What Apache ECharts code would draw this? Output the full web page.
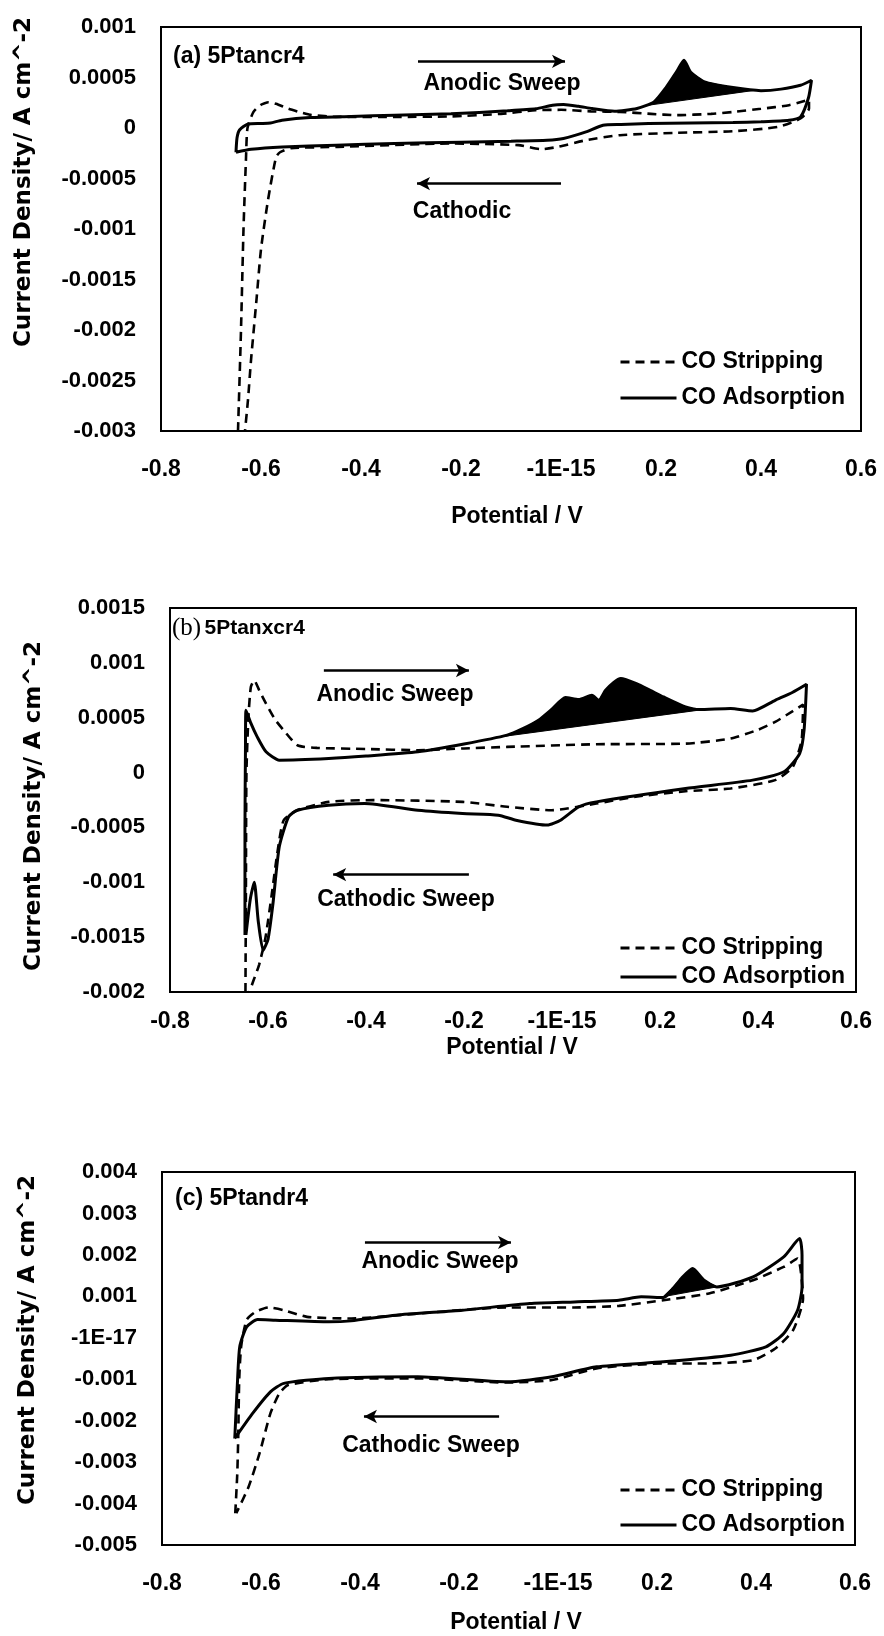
<!DOCTYPE html>
<html>
<head>
<meta charset="utf-8">
<script src="https://cdn.jsdelivr.net/npm/echarts@6/dist/echarts.min.js"></script>
<style>
html,body{margin:0;padding:0;background:#fff;}
#c{width:884px;height:1636px;}
</style>
</head>
<body>
<div id="c"></div>
<script>
// ---------- shared axis ticks ----------
const xTicks = { min: -0.8, max: 0.6, interval: 0.2 };
const yTicksA = { min: -0.003, max: 0.001, interval: 0.0005 };
const yTicksB = { min: -0.002, max: 0.0015, interval: 0.0005 };
const yTicksC = { min: -0.005, max: 0.004, interval: 0.001 };

// ---------- panel (a) 5Ptancr4 ----------
const aAdsV = [-0.650, -0.648, -0.643, -0.626, -0.600, -0.581, -0.558, -0.502, -0.420, -0.333, -0.220, -0.107, -0.050, -0.017, 0.005, 0.035, 0.062, 0.107, 0.152, 0.186, 0.210, 0.231, 0.246, 0.259, 0.287, 0.344, 0.400, 0.440, 0.479, 0.501, 0.495, 0.479, 0.456, 0.400, 0.344, 0.260, 0.175, 0.120, 0.084, 0.050, 0.005, -0.028, -0.100, -0.200, -0.333, -0.450, -0.558, -0.620, -0.650];
const aAdsI = [-0.00024, -0.00010, -0.00002, 0.00004, 0.000045, 0.00005, 0.000077, 0.000104, 0.000115, 0.000127, 0.00014, 0.00017, 0.00019, 0.000226, 0.000232, 0.000215, 0.000193, 0.000166, 0.000193, 0.000258, 0.00040, 0.000555, 0.000671, 0.000555, 0.000456, 0.00040, 0.00037, 0.000385, 0.000423, 0.000473, 0.00030, 0.00011, 0.000077, 0.000062, 0.000054, 0.00005, 0.000044, 0.000035, 0.000028, -0.000039, -0.000104, -0.000121, -0.00013, -0.00014, -0.000153, -0.00017, -0.000187, -0.00021, -0.00024];
const aStrV = [-0.646, -0.640, -0.635, -0.630, -0.627, -0.615, -0.600, -0.585, -0.570, -0.545, -0.524, -0.500, -0.446, -0.330, -0.220, -0.120, -0.051, 0.000, 0.060, 0.118, 0.180, 0.231, 0.300, 0.344, 0.400, 0.456, 0.485, 0.496, 0.496, 0.479, 0.434, 0.344, 0.231, 0.118, 0.050, -0.006, -0.040, -0.085, -0.220, -0.446, -0.540, -0.562, -0.570, -0.586, -0.600, -0.609, -0.620, -0.626, -0.632];
const aStrI = [-0.003, -0.002, -0.001, -0.0003, 0.0, 0.00016, 0.00023, 0.000255, 0.00024, 0.00019, 0.000159, 0.00013, 0.00011, 0.00011, 0.000115, 0.00014, 0.000176, 0.00018, 0.000165, 0.000159, 0.00014, 0.000127, 0.00014, 0.000159, 0.00019, 0.000226, 0.000265, 0.00028, 0.000193, 0.000094, 0.000011, -0.000032, -0.000048, -0.000071, -0.000121, -0.000187, -0.00021, -0.00017, -0.000153, -0.000187, -0.0002, -0.00024, -0.00029, -0.000714, -0.0012, -0.0017, -0.0023, -0.00269, -0.003];
const aPeakV = [0.170, 0.186, 0.210, 0.231, 0.246, 0.259, 0.287, 0.344, 0.390];
const aPeakI = [0.000222, 0.000258, 0.00040, 0.000555, 0.000671, 0.000555, 0.000456, 0.00040, 0.000375];

// ---------- panel (b) 5Ptanxcr4 ----------
const bAdsV = [-0.647, -0.647, -0.646, -0.645, -0.635, -0.622, -0.604, -0.577, -0.476, -0.400, -0.294, -0.200, -0.112, -0.080, -0.048, -0.020, 0.007, 0.034, 0.061, 0.075, 0.089, 0.105, 0.120, 0.152, 0.180, 0.207, 0.252, 0.280, 0.344, 0.389, 0.435, 0.470, 0.499, 0.494, 0.485, 0.453, 0.389, 0.252, 0.070, 0.034, -0.003, -0.030, -0.094, -0.130, -0.203, -0.294, -0.403, -0.476, -0.540, -0.558, -0.577, -0.590, -0.600, -0.610, -0.620, -0.628, -0.636, -0.645];
const bAdsI = [-0.00148, -0.0005, 0.0002, 0.000568, 0.00045, 0.000325, 0.000189, 0.000113, 0.000128, 0.00015, 0.000189, 0.00026, 0.000341, 0.0004, 0.000477, 0.00058, 0.000684, 0.000666, 0.000705, 0.000659, 0.00075, 0.00082, 0.000857, 0.000811, 0.00075, 0.000689, 0.000598, 0.000574, 0.000584, 0.000562, 0.000659, 0.00073, 0.000805, 0.000386, 0.000173, 0.000007, -0.000069, -0.000145, -0.000267, -0.000312, -0.000434, -0.000479, -0.000434, -0.000388, -0.000373, -0.000343, -0.000282, -0.000297, -0.000343, -0.000403, -0.000677, -0.0012, -0.00152, -0.00162, -0.00135, -0.001, -0.00115, -0.00148];
const bStrV = [-0.646, -0.645, -0.644, -0.640, -0.635, -0.628, -0.618, -0.604, -0.585, -0.568, -0.540, -0.500, -0.400, -0.294, -0.200, -0.112, 0.070, 0.252, 0.344, 0.400, 0.435, 0.471, 0.492, 0.489, 0.471, 0.435, 0.344, 0.252, 0.150, 0.070, -0.021, -0.112, -0.203, -0.385, -0.476, -0.540, -0.568, -0.581, -0.592, -0.605, -0.618, -0.630, -0.638];
const bStrI = [-0.002, -0.001, 0.0, 0.0005, 0.00078, 0.00084, 0.00075, 0.000629, 0.00048, 0.000386, 0.000249, 0.000225, 0.000215, 0.000204, 0.00022, 0.000234, 0.000258, 0.000264, 0.00031, 0.00039, 0.000462, 0.00056, 0.00062, 0.000295, 0.000052, -0.000069, -0.000145, -0.00017, -0.00022, -0.000282, -0.000343, -0.000312, -0.000267, -0.000251, -0.000267, -0.000343, -0.000434, -0.000735, -0.0011, -0.0015, -0.00175, -0.0019, -0.002];
const bPeakV = [-0.135, -0.112, -0.080, -0.048, -0.020, 0.007, 0.034, 0.061, 0.075, 0.089, 0.105, 0.120, 0.152, 0.180, 0.207, 0.252, 0.280, 0.291];
const bPeakI = [0.000320, 0.000341, 0.0004, 0.000477, 0.00058, 0.000684, 0.000666, 0.000705, 0.000659, 0.00075, 0.00082, 0.000857, 0.000811, 0.00075, 0.000689, 0.000598, 0.000574, 0.000576];

// ---------- panel (c) 5Ptandr4 ----------
const cAdsV = [-0.653, -0.648, -0.643, -0.629, -0.607, -0.571, -0.463, -0.418, -0.328, -0.193, -0.057, 0.033, 0.123, 0.168, 0.213, 0.249, 0.272, 0.295, 0.321, 0.394, 0.456, 0.488, 0.493, 0.493, 0.484, 0.456, 0.420, 0.349, 0.213, 0.078, -0.012, -0.103, -0.283, -0.463, -0.554, -0.581, -0.617, -0.653];
const cAdsI = [-0.00243, -0.00118, -0.00022, 0.000263, 0.000441, 0.000425, 0.000384, 0.000408, 0.000545, 0.000666, 0.000827, 0.000866, 0.000907, 0.000987, 0.000972, 0.00143, 0.001671, 0.001389, 0.001228, 0.001469, 0.001951, 0.002394, 0.002, 0.001228, 0.000666, 0.000104, -0.000219, -0.000419, -0.00058, -0.000701, -0.000942, -0.001063, -0.000942, -0.00098, -0.0011, -0.001304, -0.001825, -0.00243];
const cStrV = [-0.652, -0.648, -0.646, -0.644, -0.640, -0.629, -0.611, -0.585, -0.554, -0.507, -0.418, -0.283, -0.103, 0.033, 0.123, 0.213, 0.305, 0.394, 0.456, 0.484, 0.495, 0.475, 0.439, 0.394, 0.303, 0.213, 0.078, -0.012, -0.103, -0.283, -0.463, -0.545, -0.563, -0.581, -0.603, -0.625, -0.650];
const cStrI = [-0.004235, -0.0033, -0.0024, -0.001, -0.0002, 0.00043, 0.000625, 0.000731, 0.000666, 0.000505, 0.000465, 0.000586, 0.000731, 0.000731, 0.00077, 0.000907, 0.001068, 0.001389, 0.00171, 0.001912, 0.000948, 0.000184, -0.000258, -0.00054, -0.00062, -0.00062, -0.00074, -0.00102, -0.00108, -0.00098, -0.001, -0.00114, -0.00134, -0.001825, -0.00279, -0.003594, -0.004235];
const cPeakV = [0.205, 0.213, 0.230, 0.249, 0.272, 0.295, 0.321];
const cPeakI = [0.000975, 0.001, 0.0012, 0.00143, 0.001671, 0.001389, 0.001228];

// ---------- annotation arrows (data coordinates) ----------
const aArrows = [[[-0.286, 0.00066], [0.008, 0.00066]], [[0.0, -0.00055], [-0.288, -0.00055]]];
const bArrows = [[[-0.486, 0.00093], [-0.19, 0.00093]], [[-0.19, -0.00093], [-0.467, -0.00093]]];
const cArrows = [[[-0.39, 0.0023], [-0.095, 0.0023]], [[-0.119, -0.0019], [-0.392, -0.0019]]];

// ---------- helpers ----------
const SANS = '"Liberation Sans", Arial, sans-serif';
const zip = (V, I) => V.slice(0, Math.min(V.length, I.length)).map((v, k) => [v, I[k]]);

function lineSeries(name, V, I, idx, dashed, arrows) {
  const s = {
    name, type: 'line', xAxisIndex: idx, yAxisIndex: idx,
    data: zip(V, I), symbol: 'none', smooth: 0.2,
    lineStyle: dashed ? { color: '#000', width: 2.6, type: [9, 6] } : { color: '#000', width: 3 },
    itemStyle: { color: '#000' },
    z: dashed ? 3 : 4
  };
  if (arrows) {
    s.markLine = {
      silent: true, symbol: ['none', 'arrow'], symbolSize: [10, 13],
      label: { show: false },
      lineStyle: { color: '#000', width: 2.5, type: 'solid' },
      data: arrows.map(a => [{ coord: a[0] }, { coord: a[1] }])
    };
  }
  return s;
}

function peakSeries(V, I, idx) {
  return {
    type: 'custom', xAxisIndex: idx, yAxisIndex: idx, z: 5, silent: true,
    data: [[V[0], I[0]]],
    renderItem: function (params, api) {
      const pts = V.map((v, k) => api.coord([v, I[k]]));
      return { type: 'polygon', shape: { points: pts }, style: { fill: '#000', stroke: '#000', lineWidth: 1 } };
    }
  };
}

function xAxis(idx, margin) {
  return {
    gridIndex: idx, type: 'value', min: xTicks.min, max: xTicks.max, interval: xTicks.interval,
    axisLine: { show: false }, axisTick: { show: false }, splitLine: { show: false },
    axisLabel: {
      margin, color: '#000', fontFamily: SANS, fontWeight: 'bold', fontSize: 23,
      showMinLabel: true, showMaxLabel: true,
      formatter: v => Math.abs(v) < 1e-9 ? '-1E-15' : String(Number(v.toFixed(1)))
    }
  };
}

function yAxis(idx, t, zeroLabel) {
  return {
    gridIndex: idx, type: 'value', min: t.min, max: t.max, interval: t.interval,
    axisLine: { show: false }, axisTick: { show: false }, splitLine: { show: false },
    axisLabel: {
      margin: 25, color: '#000', fontFamily: SANS, fontWeight: 'bold', fontSize: 22,
      showMinLabel: true, showMaxLabel: true,
      formatter: v => Math.abs(v) < 1e-12 ? zeroLabel : String(Number(v.toPrecision(6)))
    }
  };
}

function legend(top, gap) {
  return {
    data: ['CO Stripping', 'CO Adsorption'], orient: 'vertical', left: 614, top,
    itemWidth: 56, itemHeight: 14, itemGap: gap, selectedMode: false,
    itemStyle: { opacity: 0 },
    lineStyle: { width: 3 },
    textStyle: { color: '#000', fontFamily: SANS, fontWeight: 'bold', fontSize: 23, lineHeight: 24 }
  };
}

function txt(text, x, y, size, align) {
  return {
    type: 'text', x, y, silent: true,
    style: { text, fill: '#000', font: 'bold ' + size + 'px ' + SANS, align: align || 'center', verticalAlign: 'middle' }
  };
}
function ytitle(x, y) {
  return {
    type: 'text', x, y, rotation: Math.PI / 2, silent: true,
    style: { text: 'Current Density/ A cm^-2', fill: '#000', font: 'bold 23px "DejaVu Sans", sans-serif', align: 'center', verticalAlign: 'middle' }
  };
}

const chart = echarts.init(document.getElementById('c'), null, { renderer: 'canvas' });
chart.setOption({
  animation: false,
  backgroundColor: '#fff',
  grid: [
    { left: 161, top: 27, width: 700, height: 404, show: true, borderColor: '#000', borderWidth: 2, backgroundColor: 'transparent' },
    { left: 170, top: 608, width: 686, height: 384, show: true, borderColor: '#000', borderWidth: 2, backgroundColor: 'transparent' },
    { left: 162, top: 1172, width: 693, height: 373, show: true, borderColor: '#000', borderWidth: 2, backgroundColor: 'transparent' }
  ],
  xAxis: [xAxis(0, 27), xAxis(1, 18), xAxis(2, 27)],
  yAxis: [yAxis(0, yTicksA, '0'), yAxis(1, yTicksB, '0'), yAxis(2, yTicksC, '-1E-17')],
  legend: [legend(345, 12), legend(931, 5), legend(1473, 11)],
  series: [
    lineSeries('CO Stripping', aStrV, aStrI, 0, true),
    lineSeries('CO Adsorption', aAdsV, aAdsI, 0, false, aArrows),
    peakSeries(aPeakV, aPeakI, 0),
    lineSeries('CO Stripping', bStrV, bStrI, 1, true),
    lineSeries('CO Adsorption', bAdsV, bAdsI, 1, false, bArrows),
    peakSeries(bPeakV, bPeakI, 1),
    lineSeries('CO Stripping', cStrV, cStrI, 2, true),
    lineSeries('CO Adsorption', cAdsV, cAdsI, 2, false, cArrows),
    peakSeries(cPeakV, cPeakI, 2)
  ],
  graphic: [
    txt('(a) 5Ptancr4', 173, 57, 23, 'left'),
    txt('Anodic Sweep', 502, 84, 23),
    txt('Cathodic', 462, 212, 23),
    txt('Potential / V', 517, 517, 23),
    ytitle(24, 182),
    {
      type: 'text', x: 172, y: 628, silent: true,
      style: {
        text: '{s|(b)} {b|5Ptanxcr4}', verticalAlign: 'middle', fill: '#000',
        rich: {
          s: { fontFamily: '"Liberation Serif", serif', fontSize: 25, fill: '#000' },
          b: { fontFamily: SANS, fontWeight: 'bold', fontSize: 21, fill: '#000' }
        }
      }
    },
    txt('Anodic Sweep', 395, 695, 23),
    txt('Cathodic Sweep', 406, 900, 23),
    txt('Potential / V', 512, 1048, 23),
    ytitle(34, 806),
    txt('(c) 5Ptandr4', 175, 1199, 23, 'left'),
    txt('Anodic Sweep', 440, 1262, 23),
    txt('Cathodic Sweep', 431, 1446, 23),
    txt('Potential / V', 516, 1623, 23),
    ytitle(28, 1340)
  ]
});
</script>
</body>
</html>
